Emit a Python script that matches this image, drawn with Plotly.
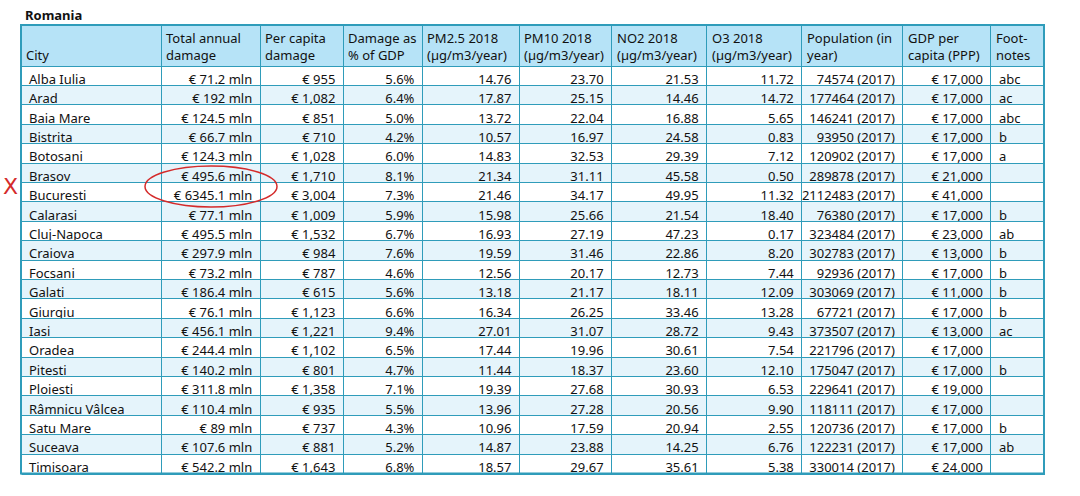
import plotly.graph_objects as go

W, H = 1080, 496
NB = "\u00a0"  # keep plotly from wrapping cell text

headers = [NB + "<br>City", "Total annual<br>damage", "Per capita<br>damage", "Damage as<br>% of GDP",
           "PM2.5 2018<br>(µg/m3/year)", "PM10 2018<br>(µg/m3/year)", "NO2 2018<br>(µg/m3/year)",
           "O3 2018<br>(µg/m3/year)", "Population (in<br>year)", "GDP per<br>capita (PPP)", "Foot-<br>notes"]

cities = ["Alba Iulia", "Arad", "Baia Mare", "Bistrita", "Botosani", "Brasov", "Bucuresti", "Calarasi",
          "Cluj-Napoca", "Craiova", "Focsani", "Galati", "Giurgiu", "Iasi", "Oradea", "Pitesti",
          "Ploiesti", "Râmnicu Vâlcea", "Satu Mare", "Suceava", "Timisoara"]
total_damage = [71.2, 192, 124.5, 66.7, 124.3, 495.6, 6345.1, 77.1, 495.5, 297.9, 73.2, 186.4, 76.1,
                456.1, 244.4, 140.2, 311.8, 110.4, 89, 107.6, 542.2]
per_capita = [955, 1082, 851, 710, 1028, 1710, 3004, 1009, 1532, 984, 787, 615, 1123, 1221, 1102,
              801, 1358, 935, 737, 881, 1643]
pct_gdp = [5.6, 6.4, 5.0, 4.2, 6.0, 8.1, 7.3, 5.9, 6.7, 7.6, 4.6, 5.6, 6.6, 9.4, 6.5, 4.7, 7.1, 5.5,
           4.3, 5.2, 6.8]
pm25 = [14.76, 17.87, 13.72, 10.57, 14.83, 21.34, 21.46, 15.98, 16.93, 19.59, 12.56, 13.18, 16.34,
        27.01, 17.44, 11.44, 19.39, 13.96, 10.96, 14.87, 18.57]
pm10 = [23.70, 25.15, 22.04, 16.97, 32.53, 31.11, 34.17, 25.66, 27.19, 31.46, 20.17, 21.17, 26.25,
        31.07, 19.96, 18.37, 27.68, 27.28, 17.59, 23.88, 29.67]
no2 = [21.53, 14.46, 16.88, 24.58, 29.39, 45.58, 49.95, 21.54, 47.23, 22.86, 12.73, 18.11, 33.46,
       28.72, 30.61, 23.60, 30.93, 20.56, 20.94, 14.25, 35.61]
o3 = [11.72, 14.72, 5.65, 0.83, 7.12, 0.50, 11.32, 18.40, 0.17, 8.20, 7.44, 12.09, 13.28, 9.43,
      7.54, 12.10, 6.53, 9.90, 2.55, 6.76, 5.38]
population = [74574, 177464, 146241, 93950, 120902, 289878, 2112483, 76380, 323484, 302783, 92936,
              303069, 67721, 373507, 221796, 175047, 229641, 118111, 120736, 122231, 330014]
gdp_pc = [17000, 17000, 17000, 17000, 17000, 21000, 41000, 17000, 23000, 13000, 17000, 11000, 17000,
          13000, 17000, 17000, 19000, 17000, 17000, 17000, 24000]
footnotes = ["abc", "ac", "abc", "b", "a", "", "", "b", "ab", "b", "b", "b", "b", "ac", "", "b", "",
             "", "b", "ab", ""]

col_widths = [140, 99, 83, 79, 97, 92, 95, 95, 101, 88, 53]

border = "#2f9cba"
header_bg = "#b6e3f7"
stripe = ["#ffffff" if i % 2 == 0 else "#e5f4fb" for i in range(len(cities))]

# table box in pixels
TX0, TX1, TY0 = 21, 1044, 25
HEAD_H, ROW_H = 41, 19.4
TY1 = TY0 + HEAD_H + ROW_H * len(cities)


def nb(s):
    return s.replace(" ", NB)


def px(x):
    return x / W


def py(y):
    return 1 - y / H


columns = [
    [nb(c) for c in cities],
    [nb(f"€ {v:g} mln") for v in total_damage],
    [nb(f"€ {v:,}") for v in per_capita],
    [f"{v:.1f}%" for v in pct_gdp],
    [f"{v:.2f}" for v in pm25],
    [f"{v:.2f}" for v in pm10],
    [f"{v:.2f}" for v in no2],
    [f"{v:.2f}" for v in o3],
    [nb(f"{v} (2017)") for v in population],
    [nb(f"€ {v:,}") for v in gdp_pc],
    footnotes,
]
align = ["left"] + ["right"] * 9 + ["left"]

font = dict(family="Noto Sans", size=13, color="#111111")

fig = go.Figure(go.Table(
    columnwidth=col_widths,
    # header text is drawn as annotations below so the two-line header keeps its height
    header=dict(values=[""] * len(headers), fill_color=header_bg,
                line=dict(color=border, width=1), align="left", font=font, height=HEAD_H),
    cells=dict(values=columns, fill_color=[stripe] * len(columns), line=dict(color=border, width=1),
               align=align, font=font, height=ROW_H),
    domain=dict(x=[px(TX0), px(TX1)], y=[py(TY1 + 1), py(TY0)]),
))

# header labels, one per column, placed from the column widths
scale = (TX1 - TX0) / sum(col_widths)
head_notes = []
left = TX0
for label, w in zip(headers, col_widths):
    head_notes.append(dict(text=nb(label), x=px(left + 3), y=py(TY0 + HEAD_H / 2 + 1),
                           xref="paper", yref="paper", xanchor="left", yanchor="middle",
                           align="left", showarrow=False, font=font))
    left += w * scale

# bottom edge of the frame, drawn as an arrow-less annotation line so it sits on top
bottom_edge = dict(text="", x=px(TX1 + 1), y=py(TY1 + 0.5), xref="paper", yref="paper",
                   ax=-(TX1 - TX0 + 2), ay=0, axref="pixel", ayref="pixel",
                   showarrow=True, arrowhead=0, arrowwidth=2, arrowcolor=border,
                   standoff=0, startstandoff=0)

fig.update_layout(
    width=W, height=H,
    margin=dict(l=0, r=0, t=0, b=0),
    paper_bgcolor="white",
    shapes=[
        # outer frame
        dict(type="rect", xref="paper", yref="paper", x0=px(TX0), x1=px(TX1), y0=py(TY0),
             y1=py(TY1), line=dict(color=border, width=2), layer="above"),
        # red hand-drawn circle
        dict(type="circle", xref="paper", yref="paper", x0=px(145), x1=px(277), y0=py(207), y1=py(166),
             line=dict(color="#d42a2a", width=1.5), layer="above"),
    ],
    annotations=[
        dict(text="<b>Romania</b>", x=px(23), y=py(15), xref="paper", yref="paper",
             xanchor="left", yanchor="middle", showarrow=False,
             font=dict(family="Noto Sans", size=13, color="#111111")),
        dict(text="X", x=px(10), y=py(186), xref="paper", yref="paper",
             xanchor="center", yanchor="middle", showarrow=False,
             font=dict(family="DejaVu Sans", size=22, color="#d42a2a")),
        bottom_edge,
    ] + head_notes,
)

fig.write_html("out.html", config={"displayModeBar": False},
               post_script="document.body.style.margin='0';")
